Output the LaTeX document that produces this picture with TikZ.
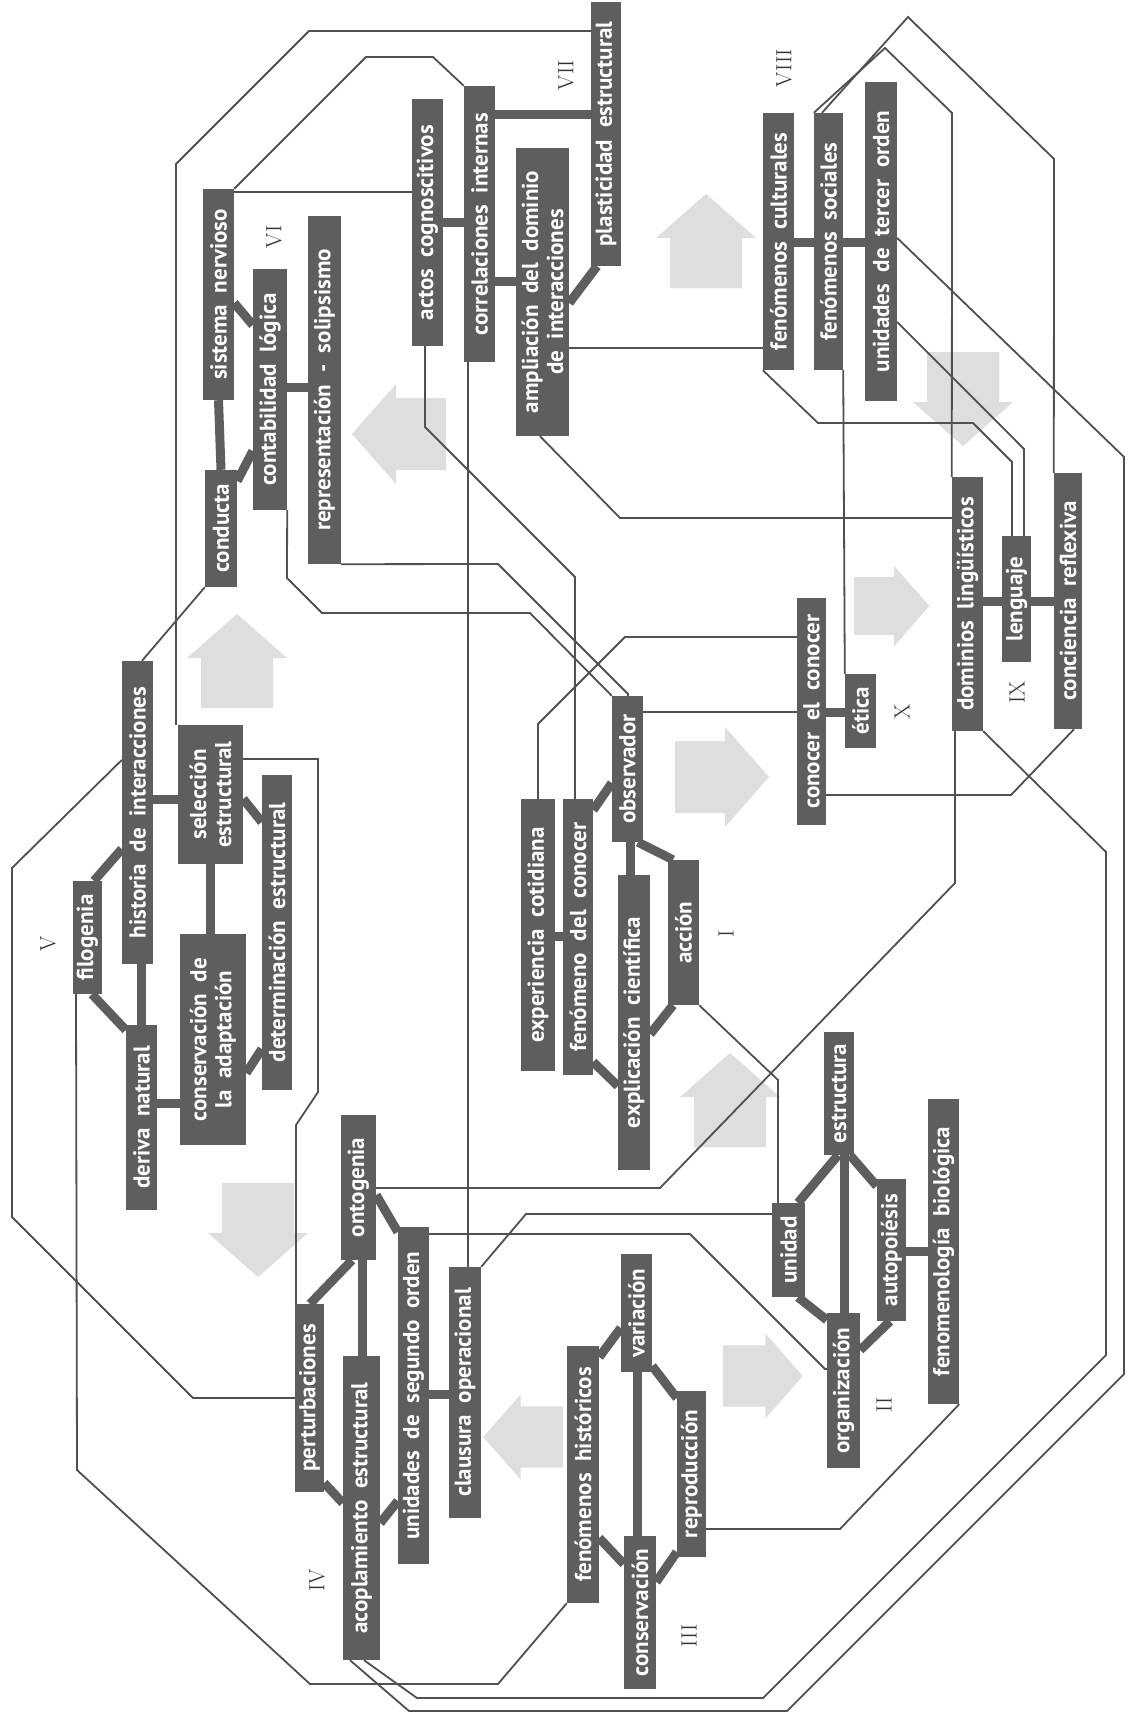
\documentclass[tikz,border=0pt]{standalone}
\usepackage{fontspec}
\newfontfamily\conceptfont{PT Sans}
\usetikzlibrary{backgrounds}
\definecolor{boxgray}{HTML}{5E5E5E}
\definecolor{linegray}{HTML}{505050}
\definecolor{arrowgray}{HTML}{DEDEDE}

\begin{document}
\begin{tikzpicture}[
    x=1pt, y=-1pt,
    box_style/.style={rotate=90, fill=boxgray, text=white, inner sep=0pt, align=center,
                      font=\conceptfont\bfseries\fontsize{23}{25}\selectfont},
    bar_style/.style={draw=boxgray, line width=9pt},
    link_style/.style={draw=linegray, line width=1.8pt},
    numeral_style/.style={rotate=90, font=\fontsize{22}{22}\selectfont, text=black!80},
    flowarrow/.pic={\fill[arrowgray] (-36,46) -- (-36,-4) -- (-50,-4) -- (0,-48)
                    -- (50,-4) -- (36,-4) -- (36,46) -- cycle;}
  ]
  \useasboundingbox (0,0) rectangle (1134,1718);

  % VI
  \node[box_style, minimum width=211pt, minimum height=31pt] (sn) at (218.5,294.5) {sistema\ \ nervioso};
  \node[box_style, minimum width=117pt, minimum height=32pt] (co) at (221,528.5) {conducta};
  \node[box_style, minimum width=241pt, minimum height=34pt] (cl) at (270,389.5) {contabilidad\ \ lógica};
  \node[box_style, minimum width=348pt, minimum height=33pt] (rs) at (324.5,390) {representación\ \ -\ \ solipsismo};
  % VII
  \node[box_style, minimum width=247pt, minimum height=31pt] (ac) at (427.5,222.5) {actos\ \ cognoscitivos};
  \node[box_style, minimum width=276pt, minimum height=31pt] (ci) at (479.5,224) {correlaciones\ \ internas};
  \node[box_style, minimum width=288pt, minimum height=53pt] (am) at (542.5,292) {ampliación\ \ del\ \ dominio\\de\ \ interacciones};
  \node[box_style, minimum width=264pt, minimum height=30pt] (pe) at (606,134) {plasticidad\ \ estructural};
  % VIII
  \node[box_style, minimum width=257pt, minimum height=31pt] (fc) at (778.5,241.5) {fenómenos\ \ culturales};
  \node[box_style, minimum width=257pt, minimum height=29pt] (fs) at (828.5,241.5) {fenómenos\ \ sociales};
  \node[box_style, minimum width=319pt, minimum height=32pt] (ut) at (881,241.5) {unidades\ \ de\ \ tercer\ \ orden};
  % IX
  \node[box_style, minimum width=254pt, minimum height=31pt] (dl) at (967.5,604) {dominios\ \ lingüísticos};
  \node[box_style, minimum width=126pt, minimum height=29pt] (le) at (1016.5,599) {lenguaje};
  \node[box_style, minimum width=256pt, minimum height=28pt] (cr) at (1068,601) {conciencia\ \ reflexiva};
  % X
  \node[box_style, minimum width=227pt, minimum height=29pt] (cc) at (811.5,711.5) {conocer\ \ el\ \ conocer};
  \node[box_style, minimum width=74pt, minimum height=31pt] (et) at (860.5,711) {ética};
  % I
  \node[box_style, minimum width=272pt, minimum height=34pt] (ec) at (538,935) {experiencia\ \ cotidiana};
  \node[box_style, minimum width=276pt, minimum height=30pt] (fd) at (578,937) {fenómeno\ \ del\ \ conocer};
  \node[box_style, minimum width=146pt, minimum height=31pt] (ob) at (627.5,769) {observador};
  \node[box_style, minimum width=295pt, minimum height=32pt] (ex) at (634,1022.5) {explicación\ \ científica};
  \node[box_style, minimum width=145pt, minimum height=31pt] (ai) at (683.5,932.5) {acción};
  % II
  \node[box_style, minimum width=123pt, minimum height=30pt] (es) at (839,1093.5) {estructura};
  \node[box_style, minimum width=94pt, minimum height=33pt] (un) at (788.5,1250) {unidad};
  \node[box_style, minimum width=155pt, minimum height=33pt] (og) at (843.5,1390.5) {organización};
  \node[box_style, minimum width=142pt, minimum height=29pt] (ap) at (891.5,1250) {autopoiésis};
  \node[box_style, minimum width=305pt, minimum height=31pt] (fb) at (943.5,1251.5) {fenomenología\ \ biológica};
  % III
  \node[box_style, minimum width=257pt, minimum height=32pt] (fh) at (583,1474.5) {fenómenos\ \ históricos};
  \node[box_style, minimum width=118pt, minimum height=31pt] (va) at (636.5,1313) {variación};
  \node[box_style, minimum width=153pt, minimum height=32pt] (cn) at (640,1612.5) {conservación};
  \node[box_style, minimum width=166pt, minimum height=29pt] (rp) at (691.5,1474) {reproducción};
  % IV
  \node[box_style, minimum width=145pt, minimum height=35pt] (on) at (358.5,1187.5) {ontogenia};
  \node[box_style, minimum width=188pt, minimum height=29pt] (pt) at (309.5,1398) {perturbaciones};
  \node[box_style, minimum width=304pt, minimum height=37pt] (ae) at (361.5,1508) {acoplamiento\ \ estructural};
  \node[box_style, minimum width=337pt, minimum height=31pt] (us) at (413.5,1395.5) {unidades\ \ de\ \ segundo\ \ orden};
  \node[box_style, minimum width=251pt, minimum height=32pt] (cop) at (465,1392.5) {clausura\ \ operacional};
  % V
  \node[box_style, minimum width=303pt, minimum height=31pt] (hi) at (137.5,812.5) {historia\ \ de\ \ interacciones};
  \node[box_style, minimum width=113pt, minimum height=29pt] (fi) at (87.5,937.5) {filogenia};
  \node[box_style, minimum width=139pt, minimum height=65pt] (se) at (210.5,794.5) {selección\\estructural};
  \node[box_style, minimum width=315pt, minimum height=30pt] (de) at (277,932.5) {determinación\ \ estructural};
  \node[box_style, minimum width=211pt, minimum height=66pt] (ca) at (213,1039.5) {conservación\ \ de\\la\ \ adaptación};
  \node[box_style, minimum width=185pt, minimum height=31pt] (dn) at (141.5,1117.5) {deriva\ \ natural};

  % numerales
  \node[numeral_style] (nI) at (726,934) {I};
  \node[numeral_style] (nII) at (884,1405) {II};
  \node[numeral_style] (nIII) at (689,1636) {III};
  \node[numeral_style] (nIV) at (317,1580) {IV};
  \node[numeral_style] (nV) at (48,944) {V};
  \node[numeral_style] (nVI) at (274,237) {VI};
  \node[numeral_style] (nVII) at (566,75) {VII};
  \node[numeral_style] (nVIII) at (784,68) {VIII};
  \node[numeral_style] (nIX) at (1017,692) {IX};
  \node[numeral_style] (nX) at (902,712) {X};

  \begin{scope}[on background layer]
    \fill[white] (0,0) rectangle (1134,1718);
    % flechas grises
    \pic at (237,662) {flowarrow};
    \pic[rotate=90] at (400,434) {flowarrow};
    \pic at (706,242) {flowarrow};
    \pic[rotate=180] at (963,398) {flowarrow};
    \pic[rotate=-90, scale=0.8] at (891,606) {flowarrow};
    \pic[rotate=-90] at (721,777) {flowarrow};
    \pic at (730,1101) {flowarrow};
    \pic[rotate=-90, scale=0.85] at (762,1376) {flowarrow};
    \pic[rotate=90, scale=0.85] at (524,1437) {flowarrow};
    \pic[rotate=180] at (258,1229) {flowarrow};

    % conexiones entre capitulos
    \draw[link_style] (pe.north |- 0,31) -- (309,31) -- (176,164) -- (se.east -| 176,0);
    \draw[link_style] (sn.south east) -- (366,57) -- (433,57) -- (ci.north east);
    \draw[link_style] (sn.south |- 0,192) -- (ac.north |- 0,192);
    \draw[link_style] (ac.west -| 425,0) -- (425,427) -- (575,577) -- (fd.east -| 575,0);
    \draw[link_style] (ci.west -| 468,0) -- (cop.east -| 468,0);
    \draw[link_style] (am.west -| 540,0) -- (620,518) -- (dl.north |- 0,518);
    \draw[link_style] (am.south |- 0,348) -- (fc.north |- 0,348);
    \draw[link_style] (rs.south west) -- (498,564) -- (628,694) -- (ob.east -| 628,0);
    \draw[link_style] (cl.south west) -- (287,578) -- (322,613) -- (530,613) -- (ob.north east);
    \draw[link_style] (ob.south |- 0,712) -- (cc.north |- 0,712);
    \draw[link_style] (ec.east -| 538,0) -- (538,724) -- (625,637) -- (cc.north |- 0,637);
    \draw[link_style] (co.north west) -- (hi.east -| 142,0);
    \draw[link_style] (hi.north |- 0,760) -- (12,868) -- (12,1217) -- (193,1398) -- (pt.north |- 0,1398);
    \draw[link_style] (fi.west -| 76,0) -- (77,1470) -- (310,1684) -- (498,1684) -- (fh.north west);
    \draw[link_style] (se.south |- 0,759) -- (318,759) -- (318,1092) -- (296,1125) -- (pt.east -| 296,0);
    \draw[link_style] (on.south |- 0,1188) -- (660,1188) -- (955,883) -- (dl.west -| 955,0);
    \draw[link_style] (us.south |- 0,1234) -- (690,1234) -- (825,1369) -- (og.north |- 0,1369);
    \draw[link_style] (un.north |- 0,1214) -- (526,1214) -- (cop.south east);
    \draw[link_style] (ai.south west) -- (778,1080) -- (un.east -| 778,0);
    \draw[link_style] (rp.south |- 0,1529) -- (840,1529) -- (fb.south west);
    \draw[link_style] (fs.north east) -- (885,48) -- (952,113) -- (dl.north east);
    \draw[link_style] (fs.east -| 822,0) -- (908,17) -- (1054,159) -- (cr.north east);
    \draw[link_style] (fs.south west) -- (et.north east);
    \draw[link_style] (fc.north west) -- (818,423) -- (973,423) -- (1012,462) -- (le.east -| 1012,0);
    \draw[link_style] (ut.south |- 0,322) -- (1024,449) -- (le.east -| 1024,0);
    \draw[link_style] (ut.south |- 0,238) -- (1124,457) -- (1124,1374) -- (787,1711) -- (409,1711) -- (ae.west -| 350,0);
    \draw[link_style] (dl.south west) -- (1106,852) -- (1106,1355) -- (763,1698) -- (417,1698) -- (ae.west -| 364,0);
    \draw[link_style] (cr.west -| 1074,0) -- (1011,795) -- (cc.south |- 0,795);

    % uniones dentro de cada capitulo
    \draw[bar_style] (sn.west) -- (co.east);
    \draw[bar_style] (sn.south |- 0,303) -- (cl.north |- 0,325);
    \draw[bar_style] (co.south |- 0,481) -- (cl.north |- 0,451);
    \draw[bar_style] (cl.south |- 0,387) -- (rs.north |- 0,387);
    \draw[bar_style] (ac.south |- 0,222) -- (ci.north |- 0,222);
    \draw[bar_style] (ci.south |- 0,281) -- (am.north |- 0,281);
    \draw[bar_style] (ci.south |- 0,115) -- (pe.north |- 0,115);
    \draw[bar_style] (am.south |- 0,303) -- (pe.west -| 597,0);
    \draw[bar_style] (fc.south |- 0,242) -- (fs.north |- 0,242);
    \draw[bar_style] (fs.south |- 0,242) -- (ut.north |- 0,242);
    \draw[bar_style] (dl.south |- 0,601) -- (le.north |- 0,601);
    \draw[bar_style] (le.south |- 0,601) -- (cr.north |- 0,601);
    \draw[bar_style] (cc.south |- 0,712) -- (et.north |- 0,712);
    \draw[bar_style] (ec.south |- 0,936) -- (fd.north |- 0,936);
    \draw[bar_style] (fd.south |- 0,810) -- (ob.north |- 0,783);
    \draw[bar_style] (ob.west -| 630,0) -- (ex.east -| 630,0);
    \draw[bar_style] (ob.west -| 638,0) -- (ai.east -| 673,0);
    \draw[bar_style] (fd.south |- 0,1062) -- (ex.north |- 0,1086);
    \draw[bar_style] (ex.south |- 0,1034) -- (ai.west -| 673,0);
    \draw[bar_style] (un.east -| 798,0) -- (es.west -| 838,0);
    \draw[bar_style] (es.west -| 844,0) -- (og.east -| 844,0);
    \draw[bar_style] (un.west -| 798,0) -- (og.north |- 0,1320);
    \draw[bar_style] (es.west -| 850,0) -- (ap.north |- 0,1186);
    \draw[bar_style] (ap.west -| 890,0) -- (og.south |- 0,1350);
    \draw[bar_style] (ap.south |- 0,1251) -- (fb.north |- 0,1251);
    \draw[bar_style] (fh.south |- 0,1357) -- (va.north |- 0,1328);
    \draw[bar_style] (fh.south |- 0,1538) -- (cn.north |- 0,1564);
    \draw[bar_style] (va.west -| 637,0) -- (cn.east -| 637,0);
    \draw[bar_style] (va.south |- 0,1366) -- (rp.north |- 0,1398);
    \draw[bar_style] (cn.south |- 0,1582) -- (rp.north |- 0,1552);
    \draw[bar_style] (pt.east -| 310,0) -- (on.west -| 352,0);
    \draw[bar_style] (on.west -| 362,0) -- (ae.east -| 362,0);
    \draw[bar_style] (on.south |- 0,1195) -- (us.north |- 0,1232);
    \draw[bar_style] (pt.south |- 0,1483) -- (ae.north |- 0,1503);
    \draw[bar_style] (ae.south |- 0,1523) -- (us.north |- 0,1501);
    \draw[bar_style] (us.south |- 0,1394) -- (cop.north |- 0,1394);
    \draw[bar_style] (hi.south |- 0,799) -- (se.north |- 0,799);
    \draw[bar_style] (se.west -| 210,0) -- (ca.east -| 210,0);
    \draw[bar_style] (se.south |- 0,799) -- (de.north |- 0,822);
    \draw[bar_style] (ca.south |- 0,1073) -- (de.north |- 0,1049);
    \draw[bar_style] (hi.west -| 141,0) -- (dn.east -| 141,0);
    \draw[bar_style] (fi.east -| 94,0) -- (hi.north |- 0,849);
    \draw[bar_style] (fi.west -| 92,0) -- (dn.north |- 0,1030);
    \draw[bar_style] (dn.south |- 0,1103) -- (ca.north |- 0,1103);
  \end{scope}
\end{tikzpicture}
\end{document}
